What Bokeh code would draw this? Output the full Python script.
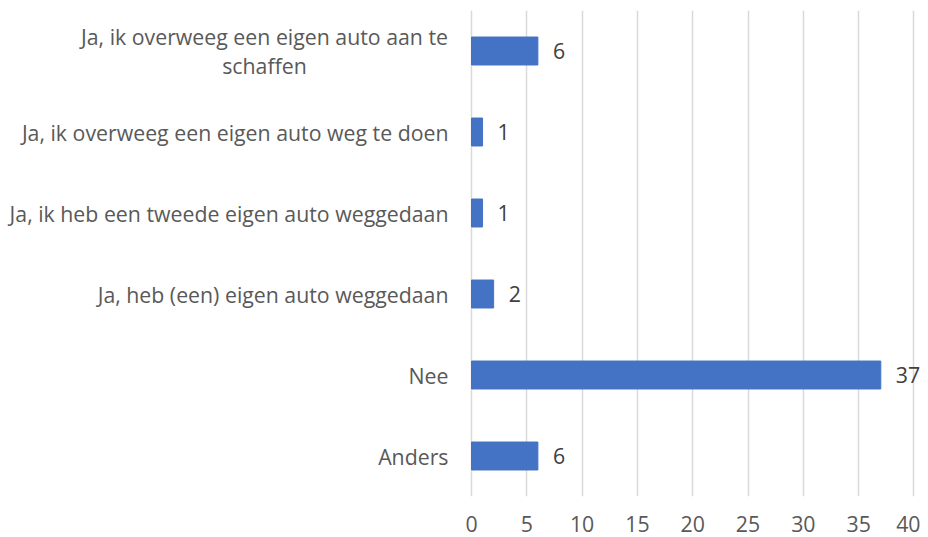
from bokeh.plotting import figure
from bokeh.models import ColumnDataSource, FactorRange, Range1d, FixedTicker
from bokeh.core.properties import value
from bokeh.embed import file_html
from bokeh.resources import INLINE

categories = [
    "Ja, ik overweeg een eigen auto aan te schaffen",
    "Ja, ik overweeg een eigen auto weg te doen",
    "Ja, ik heb een tweede eigen auto weggedaan",
    "Ja, heb (een) eigen auto weggedaan",
    "Nee",
    "Anders",
]
# how each category label is displayed (first one wraps onto two centred lines)
display_labels = [
    "Ja, ik overweeg een eigen auto aan te\nschaffen",
    "Ja, ik overweeg een eigen auto weg te doen",
    "Ja, ik heb een tweede eigen auto weggedaan",
    "Ja, heb (een) eigen auto weggedaan",
    "Nee",
    "Anders",
]
values = [6, 1, 1, 2, 37, 6]
x_ticks = [0, 5, 10, 15, 20, 25, 30, 35, 40]

FONT = "Open Sans"
FS = "21.3px"

src = ColumnDataSource(dict(cat=categories, val=values, zero=[0] * len(values),
                            txt=[str(v) for v in values]))
wsrc = ColumnDataSource(dict(cat=categories[:1], zero=[0], lab=display_labels[:1]))
lsrc = ColumnDataSource(dict(cat=categories[1:], zero=[0] * 5, lab=display_labels[1:]))

# frame spans the whole width so that labels on both sides are not clipped;
# the x range is chosen so that 0 and 40 fall where the reference puts them
p = figure(width=920, height=537, output_backend="svg", toolbar_location=None,
           y_range=FactorRange(factors=categories[::-1]),
           x_range=Range1d(-42.58, 40.59),
           min_border_left=0, min_border_right=0, min_border_top=10,
           min_border_bottom=41)
p.outline_line_color = None
p.background_fill_color = "white"
p.yaxis.visible = False

p.hbar(y="cat", right="val", left=0, height=0.345, source=src,
       fill_color="#4472C4", line_color="#4472C4")

# value labels
p.text(x="val", y="cat", text="txt", source=src, x_offset=15,
       text_align="left", text_baseline="middle", text_font=value(FONT),
       text_font_size=FS, text_color="#404040")

# category labels
p.text(x="zero", y="cat", text="lab", source=lsrc, x_offset=-23,
       text_align="right", text_baseline="middle", text_font=value(FONT),
       text_font_size=FS, text_color="#595959")
p.text(x="zero", y="cat", text="lab", source=wsrc, x_offset=-207,
       text_align="center", text_baseline="middle", text_font=value(FONT),
       text_font_size=FS, text_color="#595959", text_line_height=1.0)

p.xgrid.ticker = FixedTicker(ticks=x_ticks)
p.xaxis.ticker = FixedTicker(ticks=x_ticks)
p.xgrid.grid_line_color = "#D9D9D9"
p.xgrid.grid_line_width = 1.5
p.ygrid.grid_line_color = None

p.xaxis.axis_line_color = None
p.xaxis.major_tick_line_color = None
p.xaxis.minor_tick_line_color = None
p.xaxis.major_label_text_font = FONT
p.xaxis.major_label_text_font_size = FS
p.xaxis.major_label_text_color = "#595959"
p.xaxis.major_label_standoff = 13

open("out.html", "w").write(file_html(p, INLINE))
